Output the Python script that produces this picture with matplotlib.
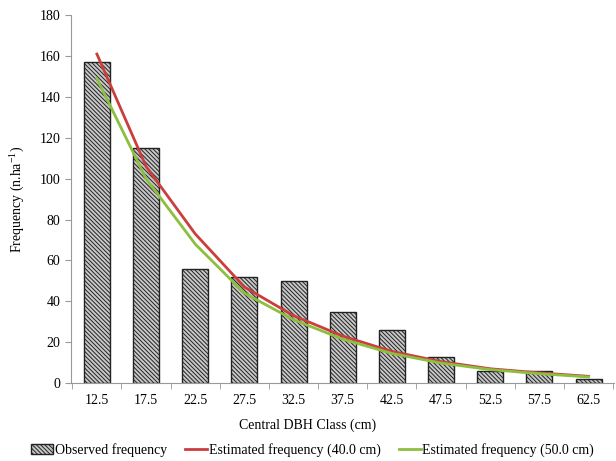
import matplotlib.pyplot as plt
import numpy as np

plt.rcParams['font.family'] = ['Liberation Serif', 'DejaVu Serif']
plt.rcParams['mathtext.fontset'] = 'custom'
plt.rcParams['mathtext.rm'] = 'Liberation Serif'
plt.rcParams['hatch.linewidth'] = 0.7

classes = ['12.5', '17.5', '22.5', '27.5', '32.5', '37.5', '42.5', '47.5', '52.5', '57.5', '62.5']
observed = [157, 115, 56, 52, 50, 35, 26, 13, 6, 6, 2]
est_40 = [161, 106, 73, 47, 33, 23, 15.5, 10.5, 7, 5, 3.3]
est_50 = [149, 100, 68, 44, 31, 21.5, 14.5, 9.8, 6.6, 4.6, 3]

fig = plt.figure(figsize=(6.16, 4.61), dpi=100)
ax = fig.add_axes([0.115, 0.169, 0.882, 0.798])

x = np.arange(len(classes))
bars = ax.bar(x, observed, width=0.53, color='#c8c8c8', edgecolor='#222222', linewidth=1.0,
              hatch='\\\\\\\\\\\\\\\\', label='Observed frequency', zorder=2)
l40, = ax.plot(x, est_40, color='#cc3d3d', linewidth=2, label='Estimated frequency (40.0 cm)', zorder=3)
l50, = ax.plot(x, est_50, color='#8cbf3f', linewidth=2, label='Estimated frequency (50.0 cm)', zorder=3)

ax.set_xlim(-0.53, len(classes) - 0.48)
ax.set_ylim(0, 180)
ax.set_yticks(range(0, 181, 20))
ax.set_xticks(x)
ax.set_xticklabels(classes)
ax.set_xticks(np.arange(-0.5, len(classes), 1), minor=True)
ax.tick_params(axis='x', which='major', length=0, labelsize=10, pad=8)
ax.tick_params(axis='x', which='minor', length=4, direction='out', color='#999999')
ax.tick_params(axis='y', length=4, direction='out', color='#999999', labelsize=10)

for s in ['top', 'right']:
    ax.spines[s].set_visible(False)
for s in ['left', 'bottom']:
    ax.spines[s].set_color('#999999')

ax.set_xlabel('Central DBH Class (cm)', fontsize=10, labelpad=8)
ax.xaxis.label.set_x(0.436)
ax.set_ylabel('Frequency (n.ha$^{-1}$)', fontsize=10, labelpad=10)

ax.legend(handles=[bars, l40, l50], loc='center', bbox_to_anchor=(0.445, -0.182), ncol=3,
          frameon=False, fontsize=10, handlelength=1.6, handletextpad=0.1, columnspacing=1.3)

fig.savefig('out.png', dpi=100)
